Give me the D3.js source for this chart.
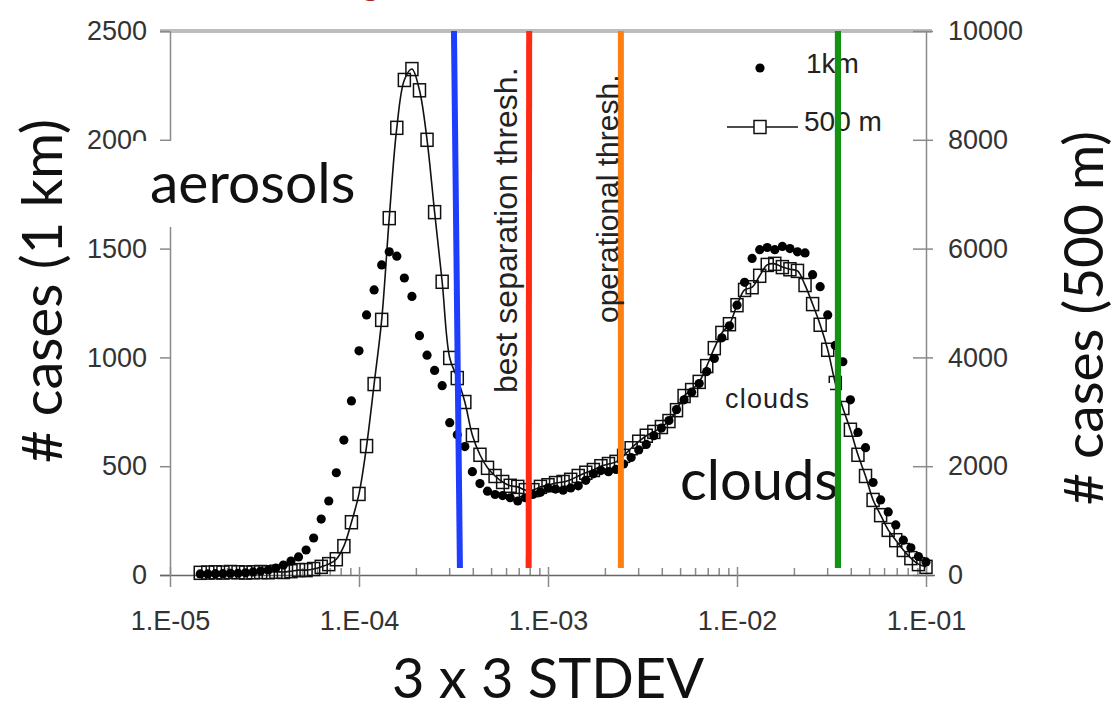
<!DOCTYPE html>
<html>
<head>
<meta charset="utf-8">
<script src="https://cdn.jsdelivr.net/npm/d3@7"></script>
<style>
  body { margin: 0; background: #fff; }
  svg { display: block; }
</style>
</head>
<body>
<div id="chart"></div>
<script>
// log10 of the 3x3 STDEV bin centres
const logStdev = [
  -4.84,-4.80,-4.76,-4.72,-4.68,-4.64,-4.60,-4.56,-4.52,-4.48,
  -4.44,-4.40,-4.36,-4.32,-4.28,-4.24,-4.20,-4.16,-4.12,-4.08,
  -4.04,-4.00,-3.96,-3.92,-3.88,-3.84,-3.80,-3.76,-3.72,-3.68,
  -3.64,-3.60,-3.56,-3.52,-3.48,-3.44,-3.40,-3.36,-3.32,-3.28,
  -3.24,-3.20,-3.16,-3.12,-3.08,-3.04,-3.00,-2.96,-2.92,-2.88,
  -2.84,-2.80,-2.76,-2.72,-2.68,-2.64,-2.60,-2.56,-2.52,-2.48,
  -2.44,-2.40,-2.36,-2.32,-2.28,-2.24,-2.20,-2.16,-2.12,-2.08,
  -2.04,-2.00,-1.96,-1.92,-1.88,-1.84,-1.80,-1.76,-1.72,-1.68,
  -1.64,-1.60,-1.56,-1.52,-1.48,-1.44,-1.40,-1.36,-1.32,-1.28,
  -1.24,-1.20,-1.16,-1.12,-1.08,-1.04,-1.00
];

// # cases, 1 km (left axis)
const cases1km = [
  5,5,6,6,8,8,10,14,18,23,
  32,46,64,83,115,170,257,340,470,620,
  800,1030,1195,1310,1425,1485,1465,1365,1280,1100,
  1010,940,870,700,645,590,475,420,385,370,
  365,355,340,355,370,380,400,395,390,400,
  410,435,465,480,475,485,510,540,575,600,
  640,675,710,760,805,840,880,935,995,1090,
  1145,1240,1345,1455,1495,1505,1495,1510,1500,1485,
  1480,1380,1325,1195,1055,980,805,655,585,425,
  345,290,230,160,125,85,60
];

// # cases, 500 m (right axis)
const cases500m = [
  40,45,50,45,55,50,45,50,55,50,
  60,55,70,90,90,110,150,200,290,530,
  970,1490,2370,3510,4690,6560,8220,9100,9300,8910,
  8000,6670,5390,3990,3620,3180,2570,2210,1970,1820,
  1710,1640,1620,1560,1560,1620,1650,1690,1710,1750,
  1820,1880,1930,2000,2040,2080,2190,2330,2450,2560,
  2630,2720,2830,3030,3290,3400,3550,3840,4170,4450,
  4610,4960,5240,5290,5500,5700,5720,5660,5620,5590,
  5330,4980,4600,4140,3530,3070,2670,2210,1820,1380,
  1100,830,640,460,310,200,150
];

const leftTicks = [0, 500, 1000, 1500, 2000, 2500];
const rightTicks = [0, 2000, 4000, 6000, 8000, 10000];
const decades = [1e-5, 1e-4, 1e-3, 1e-2, 1e-1];
const decadeLabels = ["1.E-05", "1.E-04", "1.E-03", "1.E-02", "1.E-01"];

// threshold lines (value at top of plot, value at bottom)
const thresholdTop = [3.18e-4, 7.95e-4, 2.43e-3, 3.42e-2];
const thresholdBottom = [3.42e-4, 7.9e-4, 2.43e-3, 3.42e-2];

const width = 1115, height = 710;

const svg = d3.select("#chart")
  .append("svg")
  .attr("width", width)
  .attr("height", height);

const x = d3.scaleLog().domain([1e-5, 1e-1]).range([170, 926]);
const yL = d3.scaleLinear().domain([0, 2500]).range([575, 31]);
const yR = d3.scaleLinear().domain([0, 10000]).range([575, 31]);

const points = logStdev.map((lg, i) => ({
  sd: Math.pow(10, lg), km: cases1km[i], m500: cases500m[i]
}));

const tickFont = "'Liberation Sans', Arial, sans-serif";
const bigFont = "Lato, 'Open Sans', sans-serif";

// cut-off title fragment at the very top
svg.append("text")
  .attr("x", 363).attr("y", -5)
  .attr("font-family", "'Liberation Serif', serif")
  .attr("font-size", 30)
  .attr("fill", "#a52a2a")
  .text("g");

// top frame line
svg.append("line")
  .attr("x1", 160).attr("x2", 932)
  .attr("y1", 31).attr("y2", 31)
  .attr("stroke", "#bdbdbd").attr("stroke-width", 4);

// left axis
const gL = svg.append("g")
  .attr("transform", "translate(170,0)")
  .call(d3.axisLeft(yL).tickValues(leftTicks).tickFormat(d3.format("d"))
    .tickSizeInner(10).tickSizeOuter(0).tickPadding(13));

// right axis
const gR = svg.append("g")
  .attr("transform", "translate(926,0)")
  .call(d3.axisRight(yR).tickValues(rightTicks).tickFormat(d3.format("d"))
    .tickSizeInner(7).tickSizeOuter(0).tickPadding(15));
gR.selectAll(".tick line").attr("x1", -13);

// x axis: minor ticks up, major ticks crossing
const minorTicks = [];
decades.slice(0, 4).forEach(d => { for (let m = 2; m <= 9; m++) minorTicks.push(d * m); });

const gXm = svg.append("g")
  .attr("transform", "translate(0,575)")
  .call(d3.axisBottom(x).tickValues(minorTicks).tickSize(-7).tickFormat(""));
gXm.select(".domain").remove();

const gX = svg.append("g")
  .attr("transform", "translate(0,575)")
  .call(d3.axisBottom(x).tickValues(decades).tickSizeInner(12).tickSizeOuter(0)
    .tickFormat((d, i) => decadeLabels[i]));
gX.selectAll(".tick line").attr("y1", -8);
gX.selectAll(".tick text").attr("y", 36);
gX.select(".domain").attr("d", "M160,0.5H935");

[gL, gR, gX, gXm].forEach(g => {
  g.selectAll(".domain").attr("stroke", "#8a8a8a").attr("stroke-width", 1.5);
  g.selectAll(".tick line").attr("stroke", "#8a8a8a").attr("stroke-width", 1.5);
  g.selectAll(".tick text")
    .attr("font-family", tickFont)
    .attr("font-size", 27)
    .attr("fill", "#333");
});
gX.select(".domain").attr("stroke", "#666");

// 500 m series: smoothed line with open squares
const line500 = d3.line()
  .x(d => x(d.sd))
  .y(d => yR(d.m500))
  .curve(d3.curveCatmullRom.alpha(0.5));

svg.append("path")
  .datum(points)
  .attr("d", line500)
  .attr("fill", "none")
  .attr("stroke", "#111")
  .attr("stroke-width", 1.6);

svg.append("g").selectAll("rect")
  .data(points)
  .join("rect")
  .attr("x", d => x(d.sd) - 6)
  .attr("y", d => yR(d.m500) - 6.5)
  .attr("width", 12)
  .attr("height", 13)
  .attr("fill", "none")
  .attr("stroke", "#111")
  .attr("stroke-width", 1.5);

// 1 km series: filled dots
svg.append("g").selectAll("circle")
  .data(points)
  .join("circle")
  .attr("cx", d => x(d.sd))
  .attr("cy", d => yL(d.km))
  .attr("r", 4.6)
  .attr("fill", "#000");

// label boxes
svg.append("rect")
  .attr("x", 133).attr("y", 141).attr("width", 232).attr("height", 86)
  .attr("fill", "#fff");
svg.append("text")
  .attr("x", 150).attr("y", 203)
  .attr("font-family", bigFont).attr("font-size", 57).attr("fill", "#111")
  .text("aerosols");

svg.append("text")
  .attr("x", 680).attr("y", 500)
  .attr("font-family", bigFont).attr("font-size", 56).attr("fill", "#111")
  .text("clouds");

svg.append("rect")
  .attr("x", 720).attr("y", 383).attr("width", 110).attr("height", 30)
  .attr("fill", "#fff");
svg.append("text")
  .attr("x", 725).attr("y", 408)
  .attr("font-family", tickFont).attr("font-size", 27).attr("letter-spacing", 1.2)
  .attr("fill", "#222")
  .text("clouds");

// threshold lines
const thresholdColors = ["#1f3dff", "#ff2a14", "#ff7f12", "#129412"];
svg.append("g").selectAll("line")
  .data(thresholdTop)
  .join("line")
  .attr("x1", d => x(d))
  .attr("x2", (d, i) => x(thresholdBottom[i]))
  .attr("y1", 31)
  .attr("y2", 568)
  .attr("stroke", (d, i) => thresholdColors[i])
  .attr("stroke-width", 6);

// rotated threshold annotations
svg.append("text")
  .attr("transform", "translate(517,393) rotate(-90)")
  .attr("font-family", tickFont).attr("font-size", 32).attr("fill", "#222")
  .text("best separation thresh.");
svg.append("text")
  .attr("transform", "translate(618,323) rotate(-90)")
  .attr("font-family", tickFont).attr("font-size", 30).attr("fill", "#222")
  .text("operational thresh.");

// legend
svg.append("circle").attr("cx", 760).attr("cy", 68).attr("r", 4.6).attr("fill", "#000");
svg.append("text")
  .attr("x", 806).attr("y", 73)
  .attr("font-family", tickFont).attr("font-size", 28).attr("fill", "#222")
  .text("1km");
svg.append("line")
  .attr("x1", 727).attr("x2", 798).attr("y1", 127).attr("y2", 127)
  .attr("stroke", "#111").attr("stroke-width", 1.6);
svg.append("rect")
  .attr("x", 754).attr("y", 120.5).attr("width", 12).attr("height", 13)
  .attr("fill", "#fff").attr("stroke", "#111").attr("stroke-width", 1.5);
svg.append("text")
  .attr("x", 804).attr("y", 131)
  .attr("font-family", tickFont).attr("font-size", 28).attr("fill", "#222")
  .text("500 m");
// green line passes over the legend
svg.append("line")
  .attr("x1", x(thresholdTop[3])).attr("x2", x(thresholdBottom[3]))
  .attr("y1", 31).attr("y2", 568)
  .attr("stroke", thresholdColors[3]).attr("stroke-width", 6);

// axis titles
svg.append("text")
  .attr("transform", "translate(62,291) rotate(-90)")
  .attr("text-anchor", "middle")
  .attr("font-family", bigFont).attr("font-size", 56).attr("fill", "#111")
  .text("# cases (1 km)");
svg.append("text")
  .attr("transform", "translate(1103,318) rotate(-90)")
  .attr("text-anchor", "middle")
  .attr("font-family", bigFont).attr("font-size", 55).attr("fill", "#111")
  .text("# cases (500 m)");
svg.append("text")
  .attr("x", 548).attr("y", 698)
  .attr("text-anchor", "middle")
  .attr("font-family", bigFont).attr("font-size", 56).attr("fill", "#111")
  .text("3 x 3 STDEV");
</script>
</body>
</html>
